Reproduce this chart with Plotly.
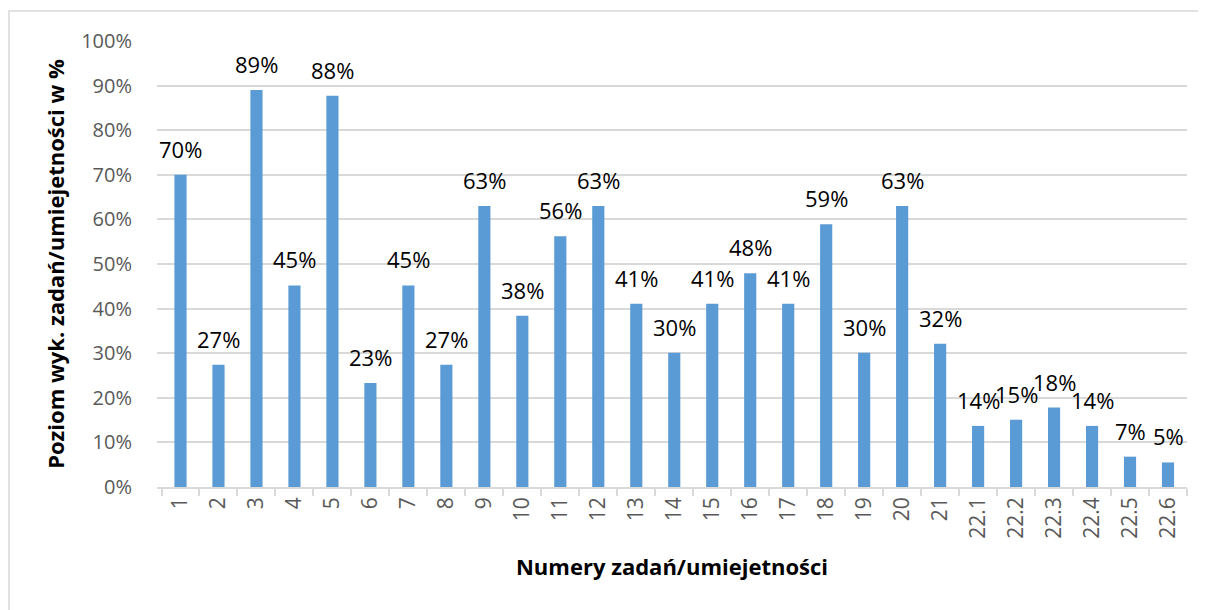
import plotly.graph_objects as go

categories = ["1","2","3","4","5","6","7","8","9","10","11","12","13","14","15","16","17","18","19","20","21","22.1","22.2","22.3","22.4","22.5","22.6"]
values = [70.0, 27.4, 89.0, 45.2, 87.7, 23.3, 45.2, 27.4, 63.0, 38.4, 56.2, 63.0, 41.1, 30.1, 41.1, 47.9, 41.1, 58.9, 30.1, 63.0, 32.1, 13.7, 15.1, 17.8, 13.7, 6.8, 5.5]
labels = ["70%","27%","89%","45%","88%","23%","45%","27%","63%","38%","56%","63%","41%","30%","41%","48%","41%","59%","30%","63%","32%","14%","15%","18%","14%","7%","5%"]
yticks = [0, 10, 20, 30, 40, 50, 60, 70, 80, 90, 100]
yticklabels = [f"{v}%" for v in yticks]

OFF = 8  # page body margin
W, H = 1206 - OFF, 610 - OFF
L, R, T, B = 157 - OFF, 19, 41 - OFF, 123

fig = go.Figure()
fig.add_trace(go.Bar(
    x=categories, y=values,
    marker=dict(color="#5B9BD5", line=dict(width=0)),
    width=0.32,
    hoverinfo="skip",
))

for i, (v, t) in enumerate(zip(values, labels)):
    fig.add_annotation(x=i, y=v, text=t, showarrow=False, yanchor="bottom",
                       yshift=9, font=dict(family="Open Sans", size=22, color="#000000"))

pw = W - L - R
ph = H - T - B
def px2x(p):
    return (p - OFF - L) / pw
def py2y(p):
    return (H - B - (p - OFF)) / ph

fig.add_shape(type="rect", xref="paper", yref="paper",
              x0=px2x(9), x1=px2x(1215), y0=py2y(650), y1=py2y(11),
              line=dict(color="#d9d9d9", width=1.5), fillcolor="rgba(0,0,0,0)", layer="below")

fig.update_layout(
    width=W, height=H,
    margin=dict(l=L, r=R, t=T, b=B, pad=0),
    plot_bgcolor="white", paper_bgcolor="white",
    showlegend=False,
    font=dict(family="Open Sans", color="#595959"),
    xaxis=dict(
        type="category",
        tickangle=-90,
        tickfont=dict(size=21, color="#595959"),
        ticks="outside", tickson="boundaries", ticklen=7, tickcolor="#d9d9d9", tickwidth=1.5,
        showline=True, linecolor="#d9d9d9", linewidth=1.5,
        showgrid=False,
        title=dict(text="<b>Numery zadań/umiejetności</b>", font=dict(size=22, color="#000000"), standoff=22),
    ),
    yaxis=dict(
        range=[0, 100],
        tickvals=yticks, ticktext=yticklabels,
        tickfont=dict(size=20, color="#595959"),
        showgrid=True, gridcolor="#d9d9d9", gridwidth=1.5,
        zeroline=False, showline=False,
        ticks="", ticklabelstandoff=24,
        title=dict(text="<b>Poziom wyk. zadań/umiejetności w %</b>", font=dict(size=22, color="#000000"), standoff=10),
    ),
)

fig.write_html("out.html")
